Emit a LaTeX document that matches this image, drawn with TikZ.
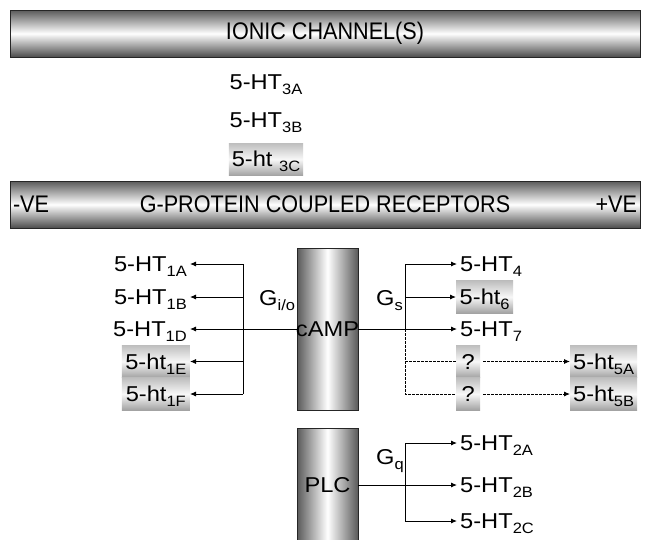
\documentclass[tikz,border=0pt]{standalone}
\usepackage{fontspec}
\setmainfont{Liberation Sans}
\newfontfamily\lblfont{Liberation Sans}[FakeStretch=1.1]
\newfontfamily\barfont{Liberation Sans}[FakeStretch=0.9]
\usepackage{tikz}
\usetikzlibrary{positioning,arrows.meta}
\definecolor{bardark}{RGB}{90,90,90}
\definecolor{boxgray}{RGB}{190,190,190}
\newcommand{\sbs}[1]{\raisebox{-5pt}{\fontsize{15}{15}\selectfont #1}}

\begin{document}
\begin{tikzpicture}[x=1pt, y=-1pt,
  bar/.style={draw=black!85, minimum width=630pt, minimum height=47pt, inner sep=0pt, top color=bardark, bottom color=bardark!85!black, middle color=white, font=\barfont\fontsize{24}{26}\selectfont},
  bartxt/.style={inner sep=3pt, font=\barfont\fontsize{24}{26}\selectfont},
  cyl/.style={draw=black!85, minimum width=61pt, inner sep=0pt, left color=bardark, right color=bardark, middle color=white, font=\lblfont\fontsize{21.5}{24}\selectfont},
  lbl/.style={inner xsep=3pt, inner ysep=0pt, text height=15pt, text depth=0pt, font=\lblfont\fontsize{21.5}{24}\selectfont},
  shlbl/.style={lbl, minimum height=32.5pt, top color=boxgray, bottom color=boxgray!85!black, middle color=black!3},
  ln/.style={line width=0.9pt},
  arr/.style={ln, -{Latex[length=6pt,width=5pt]}},
  dln/.style={ln, dash pattern=on 2.5pt off 1.5pt},
  darr/.style={arr, dash pattern=on 2.5pt off 1.5pt}
]
\path[use as bounding box, fill=white] (0,0) rectangle (647,539);

% ionic channels
\node[bar] (ionic) at (325,33.5) {IONIC CHANNEL(S)};
\node[lbl] (ht3a) at (266,82) {5-HT\sbs{3A}};
\node[lbl, below=23pt of ht3a] (ht3b) {5-HT\sbs{3B}};
\node[shlbl, minimum width=63pt, below=14.75pt of ht3b] (ht3c) {5-ht \sbs{3C}};

% g-protein coupled
\node[bar] (gpcr) at (325,204.5) {G-PROTEIN COUPLED RECEPTORS};
\node[bartxt, anchor=west] (neg) at (gpcr.west) {-VE};
\node[bartxt, anchor=east] (pos) at (gpcr.east) {+VE};

% effectors
\node[cyl, minimum height=162pt] (camp) at (327.5,329) {\makebox[0pt]{cAMP}};
\node[cyl, minimum height=114pt] (plc) at (327.5,485) {PLC};

% Gi/o side
\coordinate (lsplit) at (243,329);
\node[lbl, anchor=east] (ht1a) at (190,264) {5-HT\sbs{1A}};
\node[lbl, anchor=east] (ht1b) at (190,297) {5-HT\sbs{1B}};
\node[lbl, anchor=east] (ht1d) at (190,329) {5-HT\sbs{1D}};
\node[shlbl, anchor=east, minimum width=68pt] (ht1e) at (190,361.5) {5-ht\sbs{1E}};
\node[shlbl, anchor=east, minimum width=68pt] (ht1f) at (190,394) {5-ht\sbs{1F}};
\node[lbl, anchor=west] (gio) at (256,298) {G\sbs{i/o}};

\draw[ln] (ht1a.east -| lsplit) -- (ht1f.east -| lsplit);
\draw[arr] (camp.west) -- (ht1d.east);
\draw[arr] (ht1a.east -| lsplit) -- (ht1a.east);
\draw[arr] (ht1b.east -| lsplit) -- (ht1b.east);
\draw[arr] (ht1e.east -| lsplit) -- (ht1e.east);
\draw[arr] (ht1f.east -| lsplit) -- (ht1f.east);

% Gs side
\coordinate (rsplit) at (405,329);
\node[lbl, anchor=west] (ht4) at (457,264) {5-HT\sbs{4}};
\node[shlbl, anchor=west, minimum width=57pt] (ht6) at (456,297) {5-ht\sbs{6}};
\node[lbl, anchor=west] (ht7) at (457,329) {5-HT\sbs{7}};
\node[shlbl, anchor=west, minimum width=24pt, inner xsep=0pt] (q1) at (456,361.5) {?};
\node[shlbl, anchor=west, minimum width=24pt, inner xsep=0pt] (q2) at (456,394) {?};
\node[shlbl, anchor=west, minimum width=64pt] (ht5a) at (570,361.5) {5-ht\sbs{5A}};
\node[shlbl, anchor=west, minimum width=64pt] (ht5b) at (570,394) {5-ht\sbs{5B}};
\node[lbl, anchor=west] (gs) at (373,298) {G\sbs{s}};

\draw[arr] (camp.east) -- (ht7.west);
\draw[ln] (ht4.west -| rsplit) -- (rsplit);
\draw[arr] (ht4.west -| rsplit) -- (ht4.west);
\draw[arr] (ht6.west -| rsplit) -- (ht6.west);
\draw[dln] (rsplit) |- (q2.west);
\draw[dln] (q1.west -| rsplit) -- (q1.west);
\draw[darr, shorten <=3pt] (q1) -- (ht5a);
\draw[darr, shorten <=3pt] (q2) -- (ht5b);

% Gq side
\coordinate (qsplit) at (405,485);
\node[lbl, anchor=west] (ht2a) at (457,443) {5-HT\sbs{2A}};
\node[lbl, anchor=west] (ht2b) at (457,485) {5-HT\sbs{2B}};
\node[lbl, anchor=west] (ht2c) at (457,521) {5-HT\sbs{2C}};
\node[lbl, anchor=west] (gq) at (373,457) {G\sbs{q}};

\draw[arr] (plc.east) -- (ht2b.west);
\draw[ln] (ht2a.west -| qsplit) -- (ht2c.west -| qsplit);
\draw[arr] (ht2a.west -| qsplit) -- (ht2a.west);
\draw[arr] (ht2c.west -| qsplit) -- (ht2c.west);

\end{tikzpicture}
\end{document}
